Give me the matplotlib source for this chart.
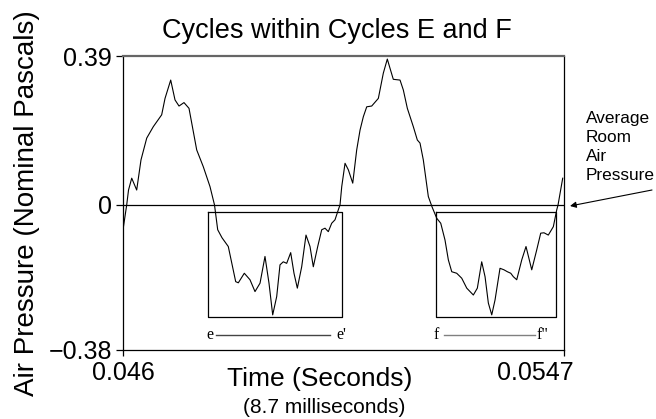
import matplotlib
matplotlib.use("Agg")
import matplotlib.pyplot as plt
import matplotlib.transforms as mtransforms

plt.rcParams['font.family'] = ['Liberation Sans', 'DejaVu Sans']

# waveform (time in s, pressure in nominal Pa)
time_s = [0.046006, 0.046073, 0.046109, 0.046172, 0.046270, 0.046355, 0.046468,
          0.046598, 0.046763, 0.046829, 0.046941, 0.047026, 0.047105, 0.047203,
          0.047302, 0.047454, 0.047584, 0.047716, 0.047805, 0.047868, 0.047953,
          0.048077, 0.048223, 0.048275, 0.048393, 0.048505, 0.048604, 0.048703,
          0.048801, 0.048880, 0.048953, 0.049032, 0.049097, 0.049162, 0.049229,
          0.049308, 0.049373, 0.049439, 0.049525, 0.049610, 0.049689, 0.049754,
          0.049841, 0.049920, 0.049985, 0.050050, 0.050117, 0.050182, 0.050247,
          0.050281, 0.050315, 0.050380, 0.050445, 0.050532, 0.050610, 0.050676,
          0.050741, 0.050808, 0.050906, 0.051037, 0.051135, 0.051214, 0.051267,
          0.051332, 0.051465, 0.051530, 0.051609, 0.051727, 0.051806, 0.051859,
          0.051924, 0.052023, 0.052096, 0.052189, 0.052268, 0.052352, 0.052418,
          0.052485, 0.052583, 0.052682, 0.052781, 0.052911, 0.052990, 0.053076,
          0.053142, 0.053207, 0.053274, 0.053339, 0.053437, 0.053516, 0.053582,
          0.053649, 0.053700, 0.053767, 0.053866, 0.053950, 0.054063, 0.054161,
          0.054240, 0.054305, 0.054390, 0.054489, 0.054556, 0.054582, 0.054674]
pressure = [-0.060, 0.000, 0.039, 0.070, 0.039, 0.118, 0.175,
            0.205, 0.236, 0.279, 0.327, 0.275, 0.259, 0.268,
            0.253, 0.144, 0.100, 0.048, 0.000, -0.065, -0.086,
            -0.109, -0.201, -0.204, -0.179, -0.196, -0.227, -0.205,
            -0.135, -0.205, -0.288, -0.240, -0.157, -0.149, -0.153,
            -0.125, -0.179, -0.218, -0.162, -0.079, -0.109, -0.162,
            -0.109, -0.065, -0.061, -0.070, -0.048, -0.039, -0.013,
            0.000, 0.048, 0.109, 0.092, 0.057, 0.144, 0.196,
            0.231, 0.257, 0.259, 0.279, 0.345, 0.382, 0.358,
            0.329, 0.327, 0.301, 0.253, 0.205, 0.170, 0.162,
            0.118, 0.022, -0.005, -0.035, -0.048, -0.092, -0.144,
            -0.175, -0.179, -0.192, -0.218, -0.236, -0.218, -0.149,
            -0.188, -0.257, -0.288, -0.249, -0.166, -0.170, -0.175,
            -0.179, -0.188, -0.196, -0.144, -0.109, -0.170, -0.118,
            -0.074, -0.073, -0.079, -0.057, -0.013, 0.000, 0.070]

x_ticks = [0.046, 0.0547]
x_ticklabels = ['0.046', '0.0547']
y_ticks = [-0.38, 0, 0.39]
y_ticklabels = ['\u22120.38', '0', '0.39']

# the two boxed cycles: (start, end) in s, and the pressure span of the boxes
cycles = {'e': (0.047683, 0.050326), 'f': (0.052175, 0.054536)}
box_top, box_bottom = -0.019, -0.294
# labels under the boxes
span_labels = [('e', "e'", 0.047716, 0.047829, 0.050084, 0.050216, '#444444'),
               ('f', 'f"', 0.052169, 0.052323, 0.054131, 0.054163, '#808080')]
label_level = -0.340

fig = plt.figure(figsize=(6.56, 4.19), dpi=100)
ax = fig.add_axes([0.1875, 0.1647, 0.6723, 0.7016])

ax.plot(time_s, pressure, color='black', lw=0.8)
ax.axhline(0, color='black', lw=0.9)

for name, (t0, t1) in cycles.items():
    ax.plot([t0, t1, t1, t0, t0], [box_top, box_top, box_bottom, box_bottom, box_top],
            color='black', lw=0.9)

for a, b, ta, l0, l1, tb, col in span_labels:
    ax.text(ta, label_level, a, family='Liberation Serif', fontsize=11.5,
            ha='center', va='center')
    ax.plot([l0, l1], [label_level, label_level], color=col, lw=1.0)
    ax.text(tb, label_level, b, family='Liberation Serif', fontsize=11.5,
            ha='left', va='center')

ax.set_xlim(0.046, 0.0547)
ax.set_ylim(-0.38, 0.39)
ax.set_xticks(x_ticks)
ax.set_xticklabels(x_ticklabels, fontsize=18)
ax.set_yticks(y_ticks)
ax.set_yticklabels(y_ticklabels, fontsize=18)
ax.tick_params(axis='y', direction='out', length=5, width=0.9, pad=3)
ax.tick_params(axis='x', direction='out', length=4, width=0.9, pad=4)

# the right tick label sits left of its tick in the original
lab = ax.get_xticklabels()[1]
lab.set_transform(lab.get_transform() +
                  mtransforms.ScaledTranslation(-29 / 100, 0, fig.dpi_scale_trans))

ax.spines['top'].set_color('#666666')
ax.spines['top'].set_linewidth(1.6)
for s in ['left', 'right', 'bottom']:
    ax.spines[s].set_linewidth(0.9)

ax.set_title('Cycles within Cycles E and F', fontsize=19.5, pad=13, x=0.486)
ax.set_ylabel('Air Pressure (Nominal Pascals)', fontsize=20, labelpad=6)

fig.text(320 / 656, 1 - 379 / 419, 'Time (Seconds)', fontsize=19,
         ha='center', va='center')
fig.text(324 / 656, 1 - 407 / 419, '(8.7 milliseconds)', fontsize=15,
         ha='center', va='center')

fig.text(586 / 656, 1 - 111 / 419, 'Average\nRoom\nAir\nPressure', fontsize=12.4,
         ha='left', va='top', linespacing=1.33)
ax.annotate('', xy=(570, 419 - 206), xytext=(652, 419 - 190),
            xycoords='figure pixels', textcoords='figure pixels',
            arrowprops=dict(arrowstyle='-|>', lw=0.8, color='black',
                            mutation_scale=9, shrinkA=0, shrinkB=0))

fig.savefig('out.png', dpi=100)
